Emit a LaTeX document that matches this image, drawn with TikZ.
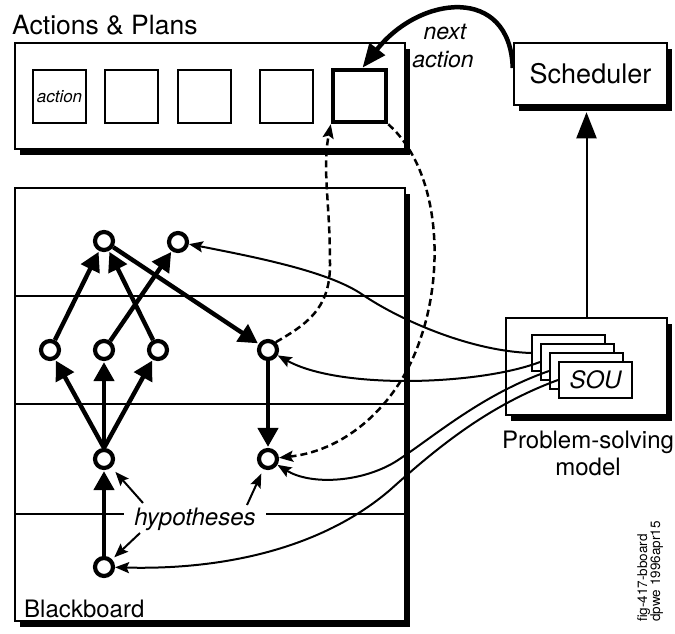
\documentclass[tikz,border=0pt]{standalone}
\usepackage{fontspec}
\setmainfont{TeX Gyre Heros}
\usetikzlibrary{arrows.meta,shadows,calc}

\tikzset{
  panel/.style={draw, line width=2.5pt, fill=white, inner sep=0pt,
    drop shadow={shadow xshift=5pt, shadow yshift=-6pt, opacity=1, fill=black}},
  slot/.style={draw, line width=2.5pt, fill=white, minimum width=53pt,
    minimum height=53pt, inner sep=0pt},
  hyp/.style={circle, draw, line width=4.2pt, fill=white, minimum size=18pt, inner sep=0pt},
  link/.style={line width=4.4pt, -{Triangle[length=19pt,width=20pt]}, shorten >=1pt},
  feed/.style={line width=2pt, -{Stealth[length=14pt,width=11pt,inset=2.5pt]}},
  cue/.style={line width=2.5pt, dash pattern=on 7pt off 4pt,
    -{Stealth[length=14pt,width=11pt,inset=2.5pt]}},
  txt/.style={font=\fontsize{24}{27}\selectfont, inner sep=0pt},
  itxt/.style={font=\fontsize{23}{27}\selectfont\itshape, inner sep=0pt},
  sou/.style={draw, line width=2pt, fill=white, minimum width=73pt,
    minimum height=36pt, inner sep=0pt},
  rule/.style={line width=2pt},
}

\begin{document}
\begin{tikzpicture}[x=1pt,y=-1pt]
\useasboundingbox (0,0) rectangle (675,634);

% ---- Actions & Plans ----
\node[panel, minimum width=390pt, minimum height=106pt] (acts) at (210,96) {};
\node[txt, font=\fontsize{26.5}{28}\selectfont, anchor=base west] (actstitle) at (12,35) {Actions \& Plans};
\node[slot] (a1) at (59.5,96.5) {\fontsize{17}{18}\selectfont\itshape action};
\node[slot] (a2) at (131.5,96.5) {};
\node[slot] (a3) at (204.5,96.5) {};
\node[slot] (a4) at (286.5,96.5) {};
\node[slot, line width=4.5pt, minimum height=52pt] (a5) at (359.5,96) {};

% ---- Scheduler ----
\node[panel, minimum width=153pt, minimum height=62pt, txt, font=\fontsize{27}{30}\selectfont]
  (sched) at (590.5,74) {Scheduler};
\coordinate (schedbase) at ([yshift=-6pt]sched.south);

% ---- Blackboard ----
\node[panel, minimum width=390pt, minimum height=433pt] (bb) at (210,404.5) {};
\node[txt, anchor=base west] (bbtitle) at (24,617) {Blackboard};
\draw[rule] (15,296) -- (405,296);
\draw[rule] (15,404) -- (405,404);
\draw[rule] (15,514) -- (405,514);

% ---- Problem-solving model ----
\node[panel, minimum width=161pt, minimum height=97pt] (psm) at (586.5,366.5) {};
\node[txt, align=center, anchor=north] (psmtitle) at (588,431) {Problem-solving\\model};
\node[sou] (c1) at (568.5,353) {};
\node[sou] (c2) at (577.5,362) {};
\node[sou] (c3) at (586.5,371) {};
\node[sou, itxt, font=\fontsize{24}{27}\selectfont\itshape] (c4) at (595.5,380) {SOU};

% ---- hypotheses ----
\node[hyp] (T1) at (104,241) {};
\node[hyp] (T2) at (178,242) {};
\node[hyp] (M1) at (50,350) {};
\node[hyp] (M2) at (104,350) {};
\node[hyp] (M3) at (158,350) {};
\node[hyp] (R1) at (268,350) {};
\node[hyp] (L1) at (104,459) {};
\node[hyp] (R2) at (268,459) {};
\node[hyp] (B)  at (104,567) {};

\draw[link] (M1) -- (T1);
\draw[link] (M3) -- (T1);
\draw[link] (M2) -- (T2);
\draw[link] (T1) -- (R1);
\draw[link] (L1.north) -- (M1);
\draw[link] (L1.north) -- (M2);
\draw[link] (L1.north) -- (M3);
\draw[link] (B) -- (L1);
\draw[link] (R1) -- (R2);

% ---- hypotheses label ----
\node[itxt, font=\fontsize{24}{27}\selectfont\itshape, fill=white, inner xsep=10pt,
  inner ysep=3pt, anchor=base] (hyptxt) at (195,525) {hypotheses};
\coordinate (h1) at (143,503);
\coordinate (h2) at (247,505);
\coordinate (h3) at (140,533);
\draw[feed, shorten >=6pt] (h1) -- (L1);
\draw[feed, shorten >=5pt] (h2) -- (R2);
\draw[feed, shorten >=3pt] (h3) -- (B);

% ---- knowledge sources acting on the blackboard ----
\draw[feed] (c1.west) .. controls (470,351) and (400,320) .. (363,295)
  .. controls (330,272) and (260,258) .. (T2);
\draw[feed] (c2.west) .. controls (480,385) and (340,390) .. (R1);
\draw[feed] (c3.west) .. controls (480,395) and (430,440) .. (395,462)
  .. controls (360,483) and (310,485) .. (R2);
\draw[feed] (c4.west) .. controls (490,405) and (440,445) .. (390,490)
  .. controls (320,550) and (220,570) .. (B);

% ---- dashed links between plan and hypotheses ----
\draw[cue] (R1.north east) .. controls (305,325) and (330,310) .. (330,265)
  .. controls (330,200) and (322,170) .. (a5.south west);
\draw[cue] (a5.south east) .. controls (440,170) and (445,270) .. (420,340)
  .. controls (400,400) and (350,450) .. (R2);

% ---- scheduler feedback ----
\draw[line width=2pt, -{Triangle[length=26pt,width=20pt]}]
  (psm.north) -- (psm.north |- schedbase);
\draw[line width=4.5pt, -{Triangle[length=24pt,width=19pt]}]
  ([yshift=6pt]sched.west) .. controls (510,-15) and (420,-5) .. ([xshift=3pt]a5.north);
\node[itxt, anchor=base] (nxt1) at (445,40) {next};
\node[itxt, anchor=base] (nxt2) at (443,68) {action};

% ---- figure tag ----
\node[rotate=90, anchor=north west, align=left, inner sep=0pt,
  font=\fontsize{13.5}{13}\selectfont] (tag) at (637,622) {fig-417-bboard\\dpwe 1996apr15};
\end{tikzpicture}
\end{document}
